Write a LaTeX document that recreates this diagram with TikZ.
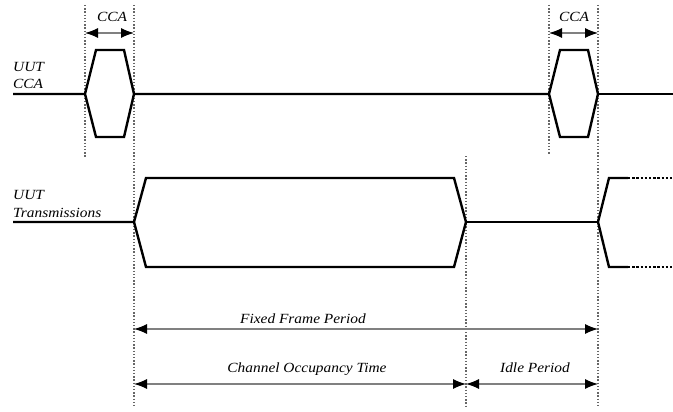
\documentclass[tikz,border=0pt]{standalone}
\usepackage{fontspec}
\setmainfont{Liberation Serif}
\usetikzlibrary{arrows.meta}
\begin{document}
\begin{tikzpicture}[x=1pt,y=-1pt,
  sig/.style={line width=2.4pt, line join=miter},
  sigdot/.style={line width=2.4pt, dash pattern=on 2.4pt off 1.8pt},
  guide/.style={black!60, line width=1.4pt, dash pattern=on 1.4pt off 1.8pt},
  dim/.style={black!50, line width=1.1pt, {Latex[length=13pt,width=10pt,black]}-{Latex[length=13pt,width=10pt,black]}},
  lbl/.style={font=\fontsize{14}{16}\selectfont\itshape, inner sep=0pt}]
\useasboundingbox (0,0) rectangle (673,412);
% guides
\coordinate (g1t) at (85,5);   \coordinate (g1b) at (85,157);
\coordinate (g2t) at (134,5);  \coordinate (g2b) at (134,408);
\coordinate (g3t) at (466,156);\coordinate (g3b) at (466,408);
\coordinate (g4t) at (549,5);  \coordinate (g4b) at (549,155);
\coordinate (g5t) at (598,5);  \coordinate (g5b) at (598,408);
\foreach \i in {1,...,5} \draw[guide] (g\i t) -- (g\i b);
% UUT CCA signal
\node[lbl, anchor=base west] (l1a) at (13,72) {\scalebox{1.1}[1]{UUT}};
\node[lbl, anchor=base west] (l1b) at (13,89) {\scalebox{1.1}[1]{CCA}};
\draw[sig] (13,94) -- (85,94) -- (96,50) -- (124,50) -- (134,94) -- (124,137) -- (96,137) -- (85,94);
\draw[sig] (134,94) -- (549,94) -- (560,50) -- (588,50) -- (598,94) -- (588,137) -- (560,137) -- (549,94);
\draw[sig] (598,94) -- (673,94);
% UUT Transmissions signal
\node[lbl, anchor=base west] (l2a) at (13,200) {\scalebox{1.1}[1]{UUT}};
\node[lbl, anchor=base west] (l2b) at (13,217) {\scalebox{1.1}[1]{Transmissions}};
\draw[sig] (13,222) -- (134,222) -- (146,178) -- (454,178) -- (466,222) -- (454,267) -- (146,267) -- (134,222);
\draw[sig] (466,222) -- (598,222);
\draw[sig] (628,178) -- (609,178) -- (598,222) -- (609,267) -- (628,267);
\draw[sigdot] (628,178) -- (673,178);
\draw[sigdot] (628,267) -- (673,267);
% dimension arrows
\coordinate (c1a) at (85,33);  \coordinate (c1b) at (134,33);
\coordinate (c2a) at (549,33); \coordinate (c2b) at (598,33);
\draw[dim] (c1a) -- (c1b);
\draw[dim] (c2a) -- (c2b);
\node[lbl, anchor=base] (cca1) at (112,22) {\scalebox{1.1}[1]{CCA}};
\node[lbl, anchor=base] (cca2) at (574,22) {\scalebox{1.1}[1]{CCA}};
\coordinate (fa) at (134,329); \coordinate (fb) at (598,329);
\draw[dim] (fa) -- (fb);
\node[lbl, anchor=base] (ffp) at (303,323) {\scalebox{1.1}[1]{Fixed Frame Period}};
\coordinate (ca) at (134,384); \coordinate (cb) at (466,384); \coordinate (cc) at (598,384);
\draw[dim] (ca) -- (cb);
\draw[dim] (cb) -- (cc);
\node[lbl, anchor=base] (cot) at (307,372) {\scalebox{1.1}[1]{Channel Occupancy Time}};
\node[lbl, anchor=base] (idle) at (535,372) {\scalebox{1.1}[1]{Idle Period}};
\end{tikzpicture}
\end{document}
